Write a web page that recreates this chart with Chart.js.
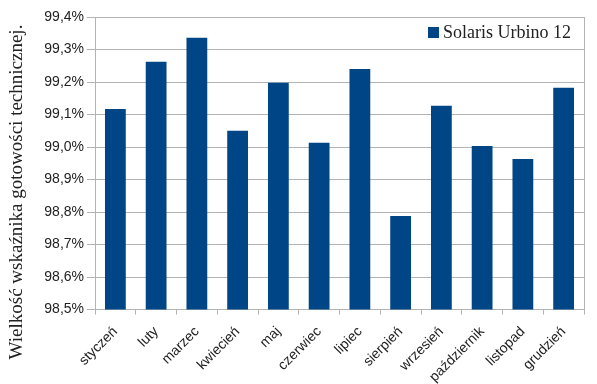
<!DOCTYPE html>
<html>
<head>
<meta charset="utf-8">
<script src="https://cdn.jsdelivr.net/npm/chart.js@4.4.1/dist/chart.umd.min.js"></script>
<style>
html,body{margin:0;padding:0;background:#fff;}
#wrap{position:relative;width:597px;height:384px;}
</style>
</head>
<body>
<div id="wrap"><canvas id="c" width="597" height="384"></canvas></div>
<script>
const categories = ['styczeń','luty','marzec','kwiecień','maj','czerwiec','lipiec','sierpień','wrzesień','październik','listopad','grudzień'];
const seriesName = 'Solaris Urbino 12';
const values = [99.117, 99.262, 99.336, 99.050, 99.198, 99.013, 99.240, 98.788, 99.127, 99.003, 98.963, 99.182];
const yTickValues = [98.5, 98.6, 98.7, 98.8, 98.9, 99.0, 99.1, 99.2, 99.3, 99.4];
const yTickLabels = ['98,5%','98,6%','98,7%','98,8%','98,9%','99,0%','99,1%','99,2%','99,3%','99,4%'];
const yTitle = 'Wielkość wskaźnika gotowości technicznej.';

const BAR = '#004586';
const GRID = '#b3b3b3';
const TXT = '#222';

const decor = {
  id: 'decor',
  afterDraw(chart) {
    const ctx = chart.ctx, a = chart.chartArea;
    ctx.save();
    // right border
    ctx.strokeStyle = GRID; ctx.lineWidth = 1;
    ctx.beginPath();
    ctx.moveTo(Math.round(a.right) + 0.5, a.top);
    ctx.lineTo(Math.round(a.right) + 0.5, a.bottom);
    ctx.stroke();
    // legend inside plot, top right
    const ds = chart.data.datasets[0];
    ctx.font = '18px "Liberation Serif", "Times New Roman", serif';
    ctx.textBaseline = 'alphabetic';
    ctx.textAlign = 'left';
    const tw = ctx.measureText(ds.label).width;
    const tx = a.right - 13 - tw;
    const ty = a.top + 21;
    ctx.fillStyle = ds.backgroundColor;
    ctx.fillRect(tx - 15, ty - 11, 11, 11);
    ctx.fillStyle = TXT;
    ctx.fillText(ds.label, tx, ty);
    // y title, centered on canvas height
    ctx.translate(22, chart.height / 2);
    ctx.rotate(-Math.PI / 2);
    ctx.textAlign = 'center';
    ctx.font = '19px "Liberation Serif", "Times New Roman", serif';
    ctx.fillText(yTitle, 0, 0);
    ctx.restore();
  }
};

new Chart(document.getElementById('c'), {
  type: 'bar',
  data: {
    labels: categories,
    datasets: [{
      label: seriesName,
      data: values,
      backgroundColor: BAR,
      borderWidth: 0,
      barPercentage: 0.51,
      categoryPercentage: 1.0
    }]
  },
  options: {
    responsive: false,
    animation: false,
    devicePixelRatio: 1,
    layout: { padding: { left: 0, right: 13, top: 17, bottom: 0 } },
    plugins: {
      legend: { display: false },
      tooltip: { enabled: false }
    },
    scales: {
      x: {
        offset: true,
        afterFit(scale) { scale.height = 74.5; },
        grid: { display: true, drawOnChartArea: false, drawTicks: true, tickLength: 5, color: GRID },
        border: { display: true, color: GRID },
        ticks: {
          color: TXT,
          font: { family: '"Liberation Sans", Arial, sans-serif', size: 14 },
          minRotation: 45, maxRotation: 45,
          padding: 9,
          autoSkip: false
        }
      },
      y: {
        min: 98.5, max: 99.4,
        afterFit(scale) { scale.width = 95; },
        afterBuildTicks(scale) { scale.ticks = yTickValues.map(v => ({ value: v })); },
        grid: { color: GRID, tickLength: 8 },
        border: { display: true, color: GRID },
        ticks: {
          color: TXT,
          font: { family: '"Liberation Sans", Arial, sans-serif', size: 14 },
          padding: 3,
          callback(v, i) { return yTickLabels[i]; }
        }
      }
    }
  },
  plugins: [decor]
});
</script>
</body>
</html>
